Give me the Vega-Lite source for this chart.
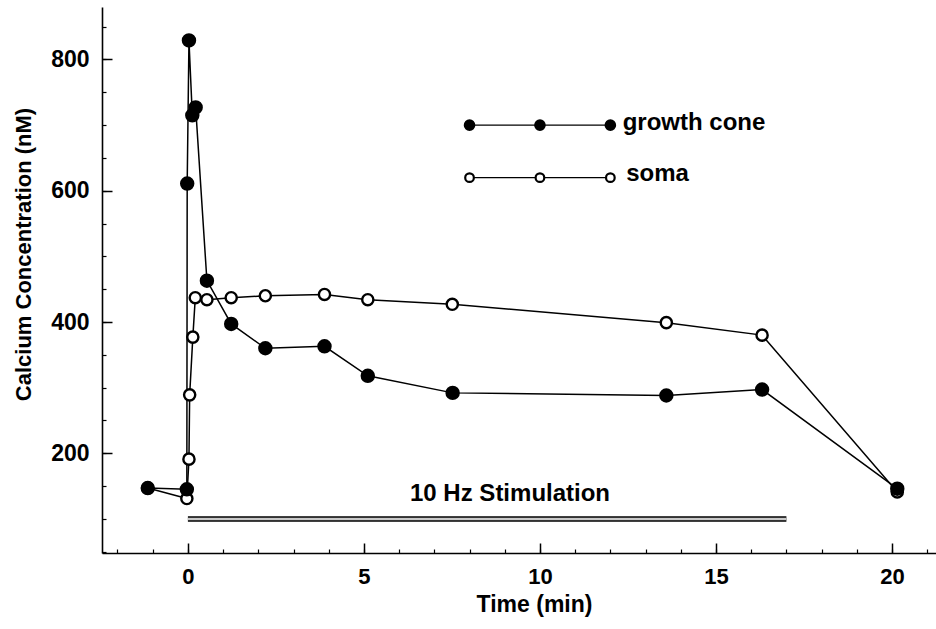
{
  "$schema": "https://vega.github.io/schema/vega-lite/v6.json",
  "width": 834,
  "height": 546,
  "autosize": "none",
  "padding": {"left": 102, "top": 7, "right": 0, "bottom": 76},
  "background": "white",
  "config": {"view": {"stroke": null}, "font": "Liberation Sans"},
  "datasets": {
    "series": [
      {"series": "soma", "seq": 1, "t": -1.14, "c": 147},
      {"series": "soma", "seq": 2, "t": -0.03, "c": 131},
      {"series": "soma", "seq": 3, "t": 0.03, "c": 191},
      {"series": "soma", "seq": 4, "t": 0.05, "c": 289},
      {"series": "soma", "seq": 5, "t": 0.14, "c": 377},
      {"series": "soma", "seq": 6, "t": 0.21, "c": 437},
      {"series": "soma", "seq": 7, "t": 0.54, "c": 434},
      {"series": "soma", "seq": 8, "t": 1.23, "c": 437},
      {"series": "soma", "seq": 9, "t": 2.2, "c": 440},
      {"series": "soma", "seq": 10, "t": 3.88, "c": 442},
      {"series": "soma", "seq": 11, "t": 5.11, "c": 434},
      {"series": "soma", "seq": 12, "t": 7.51, "c": 427},
      {"series": "soma", "seq": 13, "t": 13.59, "c": 399},
      {"series": "soma", "seq": 14, "t": 16.31, "c": 380},
      {"series": "soma", "seq": 15, "t": 20.15, "c": 141},
      {"series": "growth cone", "seq": 1, "t": -1.14, "c": 147},
      {"series": "growth cone", "seq": 2, "t": -0.03, "c": 145},
      {"series": "growth cone", "seq": 3, "t": -0.02, "c": 611},
      {"series": "growth cone", "seq": 4, "t": 0.03, "c": 829},
      {"series": "growth cone", "seq": 5, "t": 0.125, "c": 715},
      {"series": "growth cone", "seq": 6, "t": 0.22, "c": 727},
      {"series": "growth cone", "seq": 7, "t": 0.54, "c": 463},
      {"series": "growth cone", "seq": 8, "t": 1.23, "c": 397},
      {"series": "growth cone", "seq": 9, "t": 2.2, "c": 360},
      {"series": "growth cone", "seq": 10, "t": 3.88, "c": 363},
      {"series": "growth cone", "seq": 11, "t": 5.11, "c": 318},
      {"series": "growth cone", "seq": 12, "t": 7.52, "c": 292},
      {"series": "growth cone", "seq": 13, "t": 13.59, "c": 288},
      {"series": "growth cone", "seq": 14, "t": 16.31, "c": 297},
      {"series": "growth cone", "seq": 15, "t": 20.15, "c": 146}
    ],
    "legend": [
      {"series": "growth cone", "t": 8, "c": 700},
      {"series": "growth cone", "t": 10, "c": 700},
      {"series": "growth cone", "t": 12, "c": 700},
      {"series": "soma", "t": 8, "c": 620},
      {"series": "soma", "t": 10, "c": 620},
      {"series": "soma", "t": 12, "c": 620}
    ],
    "legendLabels": [
      {"label": "growth cone", "t": 12.35, "c": 704},
      {"label": "soma", "t": 12.45, "c": 625}
    ],
    "stim": [
      {"label": "10 Hz Stimulation", "t": 0, "t2": 17, "c": 100, "labelT": 9.15, "labelC": 138}
    ]
  },
  "resolve": {"axis": {"x": "independent", "y": "independent"}},
  "layer": [
    {
      "data": {"name": "stim"},
      "mark": {"type": "rule", "color": "black", "strokeWidth": 5.5},
      "encoding": {
        "x": {
          "field": "t", "type": "quantitative",
          "scale": {"domain": [-2.44, 21.25], "nice": false, "zero": false},
          "axis": {
            "values": [-2, -1, 0, 1, 2, 3, 4, 5, 6, 7, 8, 9, 10, 11, 12, 13, 14, 15, 16, 17, 18, 19, 20, 21],
            "format": "d",
            "labelExpr": "datum.value % 5 === 0 ? datum.label : ''",
            "tickSize": -4, "tickColor": "black", "tickWidth": 1.2,
            "domainColor": "black", "domainWidth": 1.6,
            "grid": false,
            "labelPadding": 17, "labelFontSize": 22, "labelFontWeight": "bold", "labelColor": "black",
            "labelBaseline": "top", "labelFlush": false, "labelOverlap": false,
            "title": "Time (min)", "titleFontSize": 23, "titleFontWeight": "bold", "titleColor": "black",
            "titleX": 432, "titleY": 51, "titleBaseline": "middle", "titleAlign": "center"
          }
        },
        "x2": {"field": "t2"},
        "y": {
          "field": "c", "type": "quantitative",
          "scale": {"domain": [48, 880], "nice": false, "zero": false},
          "axis": {
            "values": [50, 100, 150, 200, 250, 300, 350, 400, 450, 500, 550, 600, 650, 700, 750, 800, 850],
            "format": "d",
            "labelExpr": "datum.value % 200 === 0 ? datum.label : ''",
            "tickSize": -4, "tickColor": "black", "tickWidth": 1.2,
            "domainColor": "black", "domainWidth": 1.6,
            "grid": false,
            "labelPadding": 17, "labelFontSize": 23, "labelFontWeight": "bold", "labelColor": "black",
            "labelBaseline": "middle", "labelFlush": false, "labelOverlap": false,
            "title": "Calcium Concentration (nM)", "titleFontSize": 22, "titleFontWeight": "bold", "titleColor": "black",
            "titleAngle": -90, "titleX": -79, "titleY": 247, "titleBaseline": "middle", "titleAlign": "center"
          }
        }
      }
    },
    {
      "data": {"name": "stim"},
      "mark": {"type": "rule", "color": "#c8c8c8", "strokeWidth": 2.5},
      "encoding": {
        "x": {"field": "t", "type": "quantitative", "scale": {"domain": [-2.44, 21.25], "nice": false, "zero": false}, "axis": null},
        "x2": {"field": "t2"},
        "y": {"field": "c", "type": "quantitative", "scale": {"domain": [48, 880], "nice": false, "zero": false}, "axis": null}
      }
    },
    {
      "data": {"name": "stim"},
      "mark": {"type": "text", "fontSize": 24, "fontWeight": "bold", "color": "black", "align": "center", "baseline": "middle"},
      "encoding": {
        "x": {"field": "labelT", "type": "quantitative", "scale": {"domain": [-2.44, 21.25], "nice": false, "zero": false}, "axis": null},
        "y": {"field": "labelC", "type": "quantitative", "scale": {"domain": [48, 880], "nice": false, "zero": false}, "axis": null},
        "text": {"field": "label"}
      }
    },
    {
      "data": {"name": "series"},
      "mark": {"type": "line", "color": "black", "strokeWidth": 1.5},
      "encoding": {
        "x": {
          "field": "t", "type": "quantitative",
          "scale": {"domain": [-2.44, 21.25], "nice": false, "zero": false},
          "axis": {"orient": "bottom", "values": [0, 5, 10, 15, 20], "tickSize": -10, "tickColor": "black", "tickWidth": 1.5, "labels": false, "domain": false, "grid": false, "title": null}
        },
        "y": {
          "field": "c", "type": "quantitative",
          "scale": {"domain": [48, 880], "nice": false, "zero": false},
          "axis": {"orient": "left", "values": [200, 400, 600, 800], "tickSize": -10, "tickColor": "black", "tickWidth": 1.5, "labels": false, "domain": false, "grid": false, "title": null}
        },
        "detail": {"field": "series"},
        "order": {"field": "seq", "type": "quantitative"}
      }
    },
    {
      "data": {"name": "series"},
      "mark": {"type": "point", "shape": "circle", "filled": true, "stroke": "black", "strokeWidth": 2.4, "opacity": 1},
      "encoding": {
        "x": {"field": "t", "type": "quantitative", "scale": {"domain": [-2.44, 21.25], "nice": false, "zero": false}, "axis": null},
        "y": {"field": "c", "type": "quantitative", "scale": {"domain": [48, 880], "nice": false, "zero": false}, "axis": null},
        "fill": {"field": "series", "type": "nominal", "scale": {"domain": ["growth cone", "soma"], "range": ["black", "white"]}, "legend": null},
        "size": {"field": "series", "type": "ordinal", "scale": {"domain": ["growth cone", "soma"], "range": [145, 125]}, "legend": null}
      }
    },
    {
      "data": {"name": "legend"},
      "mark": {"type": "line", "color": "black", "strokeWidth": 1.3},
      "encoding": {
        "x": {"field": "t", "type": "quantitative", "scale": {"domain": [-2.44, 21.25], "nice": false, "zero": false}, "axis": null},
        "y": {"field": "c", "type": "quantitative", "scale": {"domain": [48, 880], "nice": false, "zero": false}, "axis": null},
        "detail": {"field": "series"}
      }
    },
    {
      "data": {"name": "legend"},
      "transform": [{"filter": "datum.series === 'growth cone'"}],
      "mark": {"type": "point", "shape": "circle", "filled": true, "color": "black", "size": 135, "opacity": 1},
      "encoding": {
        "x": {"field": "t", "type": "quantitative", "scale": {"domain": [-2.44, 21.25], "nice": false, "zero": false}, "axis": null},
        "y": {"field": "c", "type": "quantitative", "scale": {"domain": [48, 880], "nice": false, "zero": false}, "axis": null}
      }
    },
    {
      "data": {"name": "legend"},
      "transform": [{"filter": "datum.series === 'soma'"}],
      "mark": {"type": "point", "shape": "circle", "filled": true, "fill": "white", "stroke": "black", "strokeWidth": 2.2, "size": 75, "opacity": 1},
      "encoding": {
        "x": {"field": "t", "type": "quantitative", "scale": {"domain": [-2.44, 21.25], "nice": false, "zero": false}, "axis": null},
        "y": {"field": "c", "type": "quantitative", "scale": {"domain": [48, 880], "nice": false, "zero": false}, "axis": null}
      }
    },
    {
      "data": {"name": "legendLabels"},
      "mark": {"type": "text", "fontSize": 24, "fontWeight": "bold", "color": "black", "align": "left", "baseline": "middle"},
      "encoding": {
        "x": {"field": "t", "type": "quantitative", "scale": {"domain": [-2.44, 21.25], "nice": false, "zero": false}, "axis": null},
        "y": {"field": "c", "type": "quantitative", "scale": {"domain": [48, 880], "nice": false, "zero": false}, "axis": null},
        "text": {"field": "label"}
      }
    }
  ]
}
